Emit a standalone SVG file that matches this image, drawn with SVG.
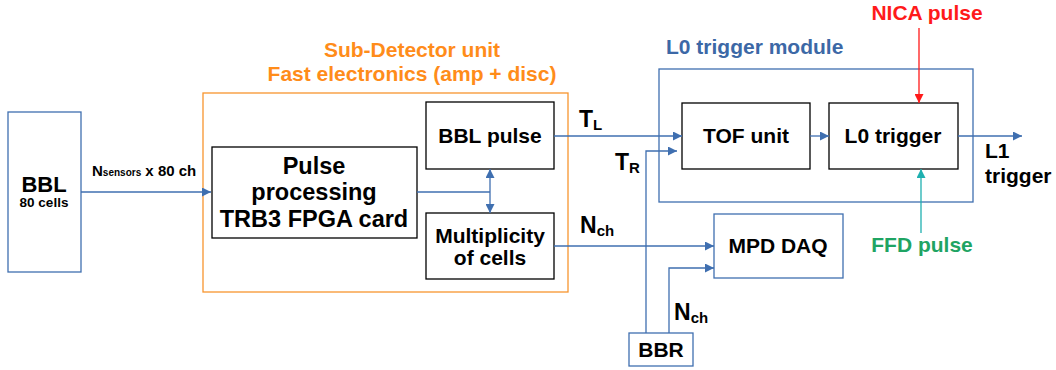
<svg xmlns="http://www.w3.org/2000/svg" width="1056" height="370" viewBox="0 0 1056 370">
<style>
text{font-family:"Liberation Sans",Arial,sans-serif;font-weight:bold;fill:#000}
.blk{fill:#fff;stroke:#000;stroke-width:1.3}
.blu{fill:#fff;stroke:#3F6FB0;stroke-width:1.3}
.c{fill:none;stroke:#3F6FB0;stroke-width:1.3}
.m{text-anchor:middle}
</style>
<defs>
<marker id="a" viewBox="0 0 10 10" refX="10" refY="5" markerWidth="9" markerHeight="9" markerUnits="userSpaceOnUse" orient="auto-start-reverse"><path d="M0,0L10,5L0,10z" fill="#3F6FB0"/></marker>
<marker id="r" viewBox="0 0 10 10" refX="10" refY="5" markerWidth="9" markerHeight="9" markerUnits="userSpaceOnUse" orient="auto"><path d="M0,0L10,5L0,10z" fill="#FF1A1A"/></marker>
<marker id="t" viewBox="0 0 10 10" refX="10" refY="5" markerWidth="9" markerHeight="9" markerUnits="userSpaceOnUse" orient="auto"><path d="M0,0L10,5L0,10z" fill="#1FB0B0"/></marker>
</defs>
<g id="subdetector">
<rect x="203" y="93" width="365" height="199" fill="none" stroke="#F7952E" stroke-width="1.3"/>
<text x="412" y="57" class="m" font-size="21" style="fill:#FF8C1A">Sub-Detector unit</text>
<text x="412" y="81" class="m" font-size="21" style="fill:#FF8C1A">Fast electronics (amp + disc)</text>
</g>
<g id="l0module">
<rect x="659" y="69" width="314" height="133" fill="none" stroke="#3F6FB0" stroke-width="1.3"/>
<text x="666" y="54" font-size="21" style="fill:#3C68A6">L0 trigger module</text>
</g>
<g id="bbl">
<rect x="8" y="112" width="73" height="160" class="blu"/>
<text x="44" y="192" class="m" font-size="22">BBL</text>
<text x="44" y="207" class="m" font-size="13.5">80 cells</text>
</g>
<g id="pulse">
<rect x="212" y="147" width="205" height="91" class="blk"/>
<text x="314" y="174" class="m" font-size="23.5">Pulse</text>
<text x="314" y="200" class="m" font-size="23.5">processing</text>
<text x="314" y="227" class="m" font-size="23.5">TRB3 FPGA card</text>
</g>
<g id="bblpulse">
<rect x="426" y="102" width="128" height="67" class="blk"/>
<text x="490" y="143" class="m" font-size="21">BBL pulse</text>
</g>
<g id="mult">
<rect x="426" y="213" width="128" height="66" class="blk"/>
<text x="490" y="243" class="m" font-size="21">Multiplicity</text>
<text x="490" y="265" class="m" font-size="21">of cells</text>
</g>
<g id="tof">
<rect x="682" y="103" width="128" height="66" class="blk"/>
<text x="746" y="143" class="m" font-size="21">TOF unit</text>
</g>
<g id="l0trigger">
<rect x="829" y="103" width="129" height="66" class="blk"/>
<text x="893" y="143" class="m" font-size="21">L0 trigger</text>
</g>
<g id="mpddaq">
<rect x="714" y="214" width="129" height="64" class="blu"/>
<text x="778" y="253" class="m" font-size="21">MPD DAQ</text>
</g>
<g id="bbr">
<rect x="629" y="333" width="64" height="33" class="blu"/>
<text x="661" y="357" class="m" font-size="21">BBR</text>
</g>
<g id="connectors">
<path d="M81,192H211" class="c" marker-end="url(#a)"/>
<path d="M417,192H490" class="c"/>
<path d="M490,169V213" class="c" marker-start="url(#a)" marker-end="url(#a)"/>
<path d="M554,136H682" class="c" marker-end="url(#a)"/>
<path d="M810,136H829" class="c" marker-end="url(#a)"/>
<path d="M958,136H1022" class="c" marker-end="url(#a)"/>
<path d="M646,333V151H677" class="c" marker-end="url(#a)"/>
<path d="M554,246H714" class="c" marker-end="url(#a)"/>
<path d="M669,333V268H714" class="c" marker-end="url(#a)"/>
<path d="M919,28V103" fill="none" stroke="#FF1A1A" stroke-width="1.3" marker-end="url(#r)"/>
<path d="M921,233V169" fill="none" stroke="#1FB0B0" stroke-width="1.3" marker-end="url(#t)"/>
</g>
<g id="labels">
<text x="92" y="176" font-size="15">N<tspan font-size="10">sensors</tspan> x 80 ch</text>
<text x="579" y="127" font-size="23">T<tspan font-size="15" dy="3">L</tspan></text>
<text x="615" y="170" font-size="23">T<tspan font-size="15" dy="3">R</tspan></text>
<text x="580" y="233" font-size="23">N<tspan font-size="15" dy="3">ch</tspan></text>
<text x="674" y="320" font-size="23">N<tspan font-size="15" dy="3">ch</tspan></text>
<text x="985" y="158" font-size="21">L1</text>
<text x="985" y="183" font-size="21">trigger</text>
<text x="927" y="20" class="m" font-size="21" style="fill:#FF1A1A">NICA pulse</text>
<text x="922" y="252" class="m" font-size="21" style="fill:#1FA463">FFD pulse</text>
</g>
</svg>
